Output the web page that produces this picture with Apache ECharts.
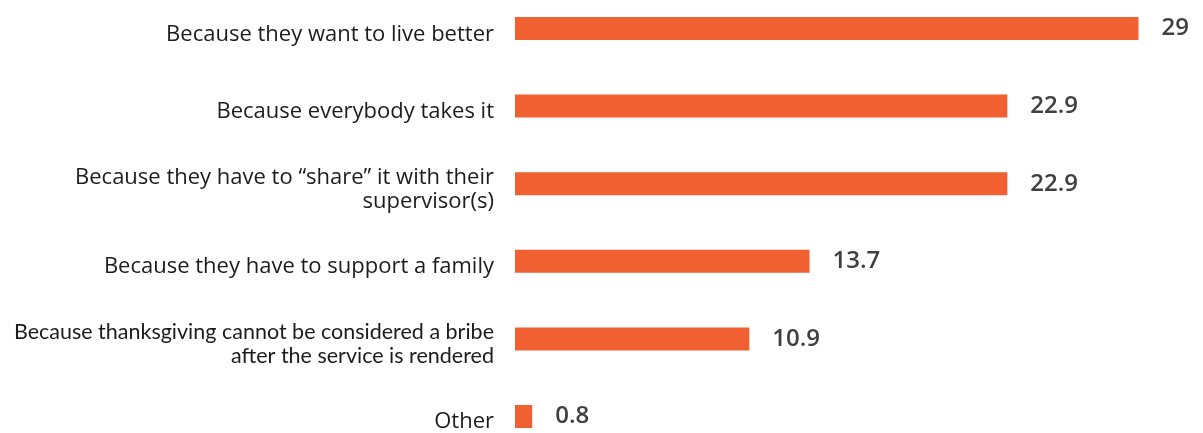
<!DOCTYPE html>
<html>
<head>
<meta charset="utf-8">
<style>
  html, body { margin: 0; padding: 0; background: #ffffff; }
  #chart { width: 1203px; height: 433px; }
</style>
<script src="https://cdn.jsdelivr.net/npm/echarts@6/dist/echarts.min.js"></script>
</head>
<body>
<div id="chart"></div>
<script>
// Reasons given for taking bribes (%), top to bottom
const categories = [
  'Because they want to live better',
  'Because everybody takes it',
  'Because they have to \u201cshare\u201d it with their\nsupervisor(s)',
  'Because they have to support a family',
  'Because thanksgiving cannot be considered a bribe\nafter the service is rendered',
  'Other'
];
const values = [29, 22.9, 22.9, 13.7, 10.9, 0.8];

// the long thanksgiving label is set in a narrower face
const narrowIndex = 4;

const plotTop = 28.5;
const plotHeight = 388;
const plotLeft = 515;
const plotWidth = 645;

const chart = echarts.init(document.getElementById('chart'));
chart.setOption({
  animation: false,
  grid: [
    // bars
    { left: plotLeft, top: plotTop, width: plotWidth, height: plotHeight },
    // category names, sitting slightly lower than the bar centres
    { left: plotLeft, top: plotTop + 6, width: plotWidth, height: plotHeight }
  ],
  xAxis: [
    { gridIndex: 0, type: 'value', min: 0, max: 30, show: false },
    { gridIndex: 1, type: 'value', min: 0, max: 30, show: false }
  ],
  yAxis: [
    {
      gridIndex: 0,
      type: 'category',
      inverse: true,
      boundaryGap: false,
      data: categories,
      show: false
    },
    {
      gridIndex: 1,
      type: 'category',
      inverse: true,
      boundaryGap: false,
      data: categories,
      axisLine: { show: false },
      axisTick: { show: false },
      splitLine: { show: false },
      axisLabel: {
        margin: 21,
        align: 'right',
        verticalAlign: 'middle',
        formatter: function (value, index) {
          const key = index === narrowIndex ? 'c' : 'n';
          return value.split('\n').map(function (line) {
            return '{' + key + '|' + line + '}';
          }).join('\n');
        },
        rich: {
          n: { fontFamily: 'Open Sans', fontSize: 22, lineHeight: 24, color: '#1c1c1c' },
          c: { fontFamily: 'Lato', fontSize: 21.5, lineHeight: 24, color: '#1c1c1c' }
        }
      }
    }
  ],
  series: [{
    type: 'bar',
    xAxisIndex: 0,
    yAxisIndex: 0,
    data: values,
    barWidth: 23,
    itemStyle: { color: '#F16030' },
    label: {
      show: true,
      position: 'right',
      distance: 23,
      color: '#404040',
      fontFamily: 'Open Sans',
      fontWeight: 600,
      fontSize: 24
    }
  }]
});
</script>
</body>
</html>
